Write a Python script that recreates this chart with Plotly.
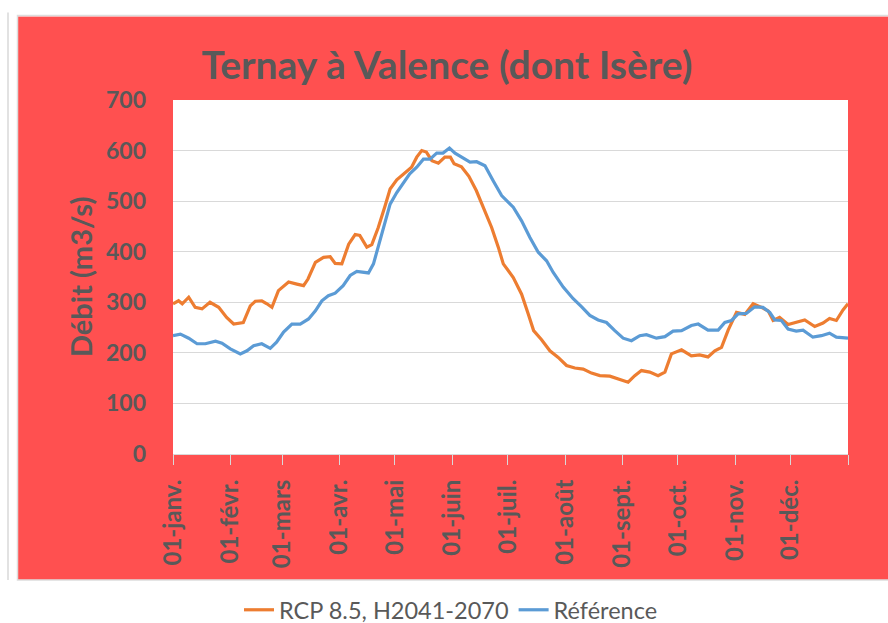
import plotly.graph_objects as go

# Day of year (0 = 1 Jan) and discharge values (m3/s)
days_rcp = [0, 3, 5, 8.5, 12, 15.7, 20, 24.7, 29, 32.8, 38, 41.8, 44.5, 48, 50.8, 53.5, 57, 62.5, 67, 70.6,
            73, 77, 81.4, 85, 87.7, 91.3, 95, 98.5, 101, 104.8, 107.5, 111, 114.7, 117.4, 121, 125.5, 129,
            131.8, 134.5, 137, 140, 143.5, 147, 150, 152, 156, 160, 164, 167.8, 172.3, 175.9, 178.6, 184,
            188.5, 192.1, 195, 199.3, 203.8, 208.3, 212.8, 217.3, 221.8, 226.3, 230.8, 236.2, 241.6, 246.1,
            249.7, 253.3, 257.8, 262.3, 266, 269.5, 275, 280.3, 284.8, 289.3, 293, 296.6, 300.2, 304.7,
            309.2, 313.7, 318.2, 321.8, 324.5, 328, 332.6, 337, 341.6, 347, 351.5, 355, 358.7, 362.3, 365]
rcp_values = [297, 303, 297, 310, 290, 287, 300, 290, 270, 257, 260, 293, 302, 303, 297, 290, 323, 340, 336, 333,
              346, 379, 389, 390, 377, 376, 415, 434, 432, 409, 414, 448, 491, 524, 542, 555, 567,
              587, 600, 597, 580, 575, 587, 587, 574, 568, 549, 521, 488, 448, 409, 376, 349,
              316, 277, 244, 226, 204, 191, 175, 170, 168, 160, 155, 154, 148, 142,
              155, 165, 162, 155, 162, 198, 206, 194, 196, 192, 204, 211, 245, 280,
              276, 297, 290, 283, 264, 270, 256, 260, 265, 252, 259, 268, 264, 285, 297]

days_ref = [0, 4, 8.5, 13, 17.5, 23, 26.5, 31, 36.4, 40, 43.6, 48, 52.6, 56, 59.8, 64.3, 68.8, 73.3, 77, 80.5,
            84, 87.7, 92, 95.8, 99.4, 103, 105.7, 108.4, 111, 113.8, 117.4, 121, 124.6, 128, 131.8, 135.4,
            139, 142.6, 146, 149.5, 152.5, 156, 160.6, 164.2, 168.7, 173.2, 177.7, 184, 188.5, 193, 197.5,
            202, 205.6, 211, 216.4, 221, 225.4, 229.9, 234.4, 238.9, 243.4, 247.9, 252.4, 256, 261.4, 266,
            270.4, 275, 280.3, 284, 289.3, 294.8, 298.4, 302, 305.6, 310, 314.6, 319, 322.7, 325.4, 329,
            332.6, 337, 340.7, 346, 350.6, 355, 358.7, 365]
ref_values = [234, 237, 229, 218, 218, 223, 219, 208, 198, 204, 214, 218, 209, 221, 241, 257, 257, 267, 283, 303,
              313, 318, 333, 353, 361, 359, 358, 376, 409, 448, 494, 517, 537, 554, 567, 583,
              583, 595, 595, 605, 595, 588, 577, 578, 570, 540, 511, 488, 461, 428, 399,
              382, 359, 330, 307, 291, 274, 265, 260, 244, 229, 224, 234, 236, 229, 232,
              243, 244, 254, 257, 245, 245, 260, 264, 277, 278, 291, 290, 280, 265, 264,
              247, 243, 245, 231, 234, 239, 231, 229]

month_days = [0, 31, 59, 90, 120, 151, 181, 212, 243, 273, 304, 334, 365]
month_labels = ["01-janv.", "01-févr.", "01-mars", "01-avr.", "01-mai", "01-juin", "01-juil.",
                "01-août", "01-sept.", "01-oct.", "01-nov.", "01-déc.", ""]

title_text = "Ternay à Valence (dont Isère)"
y_title = "Débit (m3/s)"

W, H = 888, 623
L, R, T, B = 173, 40, 100, 169
pw, ph = W - L - R, H - T - B


def px(x):
    return (x - L) / pw


def py(y):
    return (H - B - y) / ph


FONT = "Lato"
TXT = "#595959"
RED = "#FF5050"
GRID = "#D9D9D9"

fig = go.Figure()
fig.add_trace(go.Scatter(x=days_rcp, y=rcp_values, mode="lines", name="RCP 8.5, H2041-2070",
                         line=dict(color="#ED7D31", width=3.2)))
fig.add_trace(go.Scatter(x=days_ref, y=ref_values, mode="lines", name="Référence",
                         line=dict(color="#5B9BD5", width=3.2)))

shapes = [
    # white strips outside the red chart box
    dict(type="rect", xref="paper", yref="paper", x0=-1, x1=2, y0=-1, y1=py(580),
         fillcolor="white", line=dict(width=0), layer="below"),
    dict(type="rect", xref="paper", yref="paper", x0=-1, x1=2, y0=py(16.5), y1=2,
         fillcolor="white", line=dict(width=0), layer="below"),
    dict(type="rect", xref="paper", yref="paper", x0=-1, x1=px(18), y0=-1, y1=2,
         fillcolor="white", line=dict(width=0), layer="below"),
    # light border of the red box
    dict(type="rect", xref="paper", yref="paper", x0=px(17.5), x1=px(895), y0=py(580), y1=py(15.5),
         fillcolor="rgba(0,0,0,0)", line=dict(color="#DDDDDD", width=1.5), layer="below"),
    # thin grey vertical line at far left
    dict(type="line", xref="paper", yref="paper", x0=px(8), x1=px(8), y0=py(580), y1=py(12.5),
         line=dict(color="#D8D8D8", width=1.5), layer="below"),
]

fig.update_layout(
    width=W, height=H,
    margin=dict(l=L, r=R, t=T, b=B, autoexpand=False),
    paper_bgcolor=RED,
    plot_bgcolor="white",
    shapes=shapes,
    title=dict(text=title_text, x=447 / W, xanchor="center", y=1 - 65 / H, yanchor="middle",
               xref="container", yref="container",
               font=dict(family=FONT, size=39, color=TXT, weight="bold")),
    xaxis=dict(range=[0, 365], tickmode="array", tickvals=month_days, ticktext=month_labels,
               tickangle=-90, ticks="outside", ticklen=10, tickcolor=GRID, tickwidth=1,
               showline=True, linecolor=GRID, linewidth=1, showgrid=False, zeroline=False,
               ticklabelstandoff=5,
               tickfont=dict(family=FONT, size=24, color=TXT, weight="bold")),
    yaxis=dict(range=[0, 700], dtick=100, showgrid=True, gridcolor=GRID, gridwidth=1,
               zeroline=False, showline=False, ticks="", ticklabelstandoff=26,
               tickfont=dict(family=FONT, size=23, color=TXT, weight="bold")),
    annotations=[dict(text=y_title, xref="paper", yref="paper", x=px(80), y=0.5,
                      xanchor="center", yanchor="middle", textangle=-90, showarrow=False,
                      font=dict(family=FONT, size=29, color=TXT, weight="bold"))],
    legend=dict(orientation="h", x=px(451), xanchor="center", y=py(610), yanchor="middle",
                bgcolor="rgba(0,0,0,0)", font=dict(family=FONT, size=23.5, color=TXT),
                itemwidth=30, tracegroupgap=0),
    showlegend=True,
)

fig.write_html("out.html", config={"displayModeBar": False},
               post_script="document.body.style.margin='0';document.body.style.padding='0';")
